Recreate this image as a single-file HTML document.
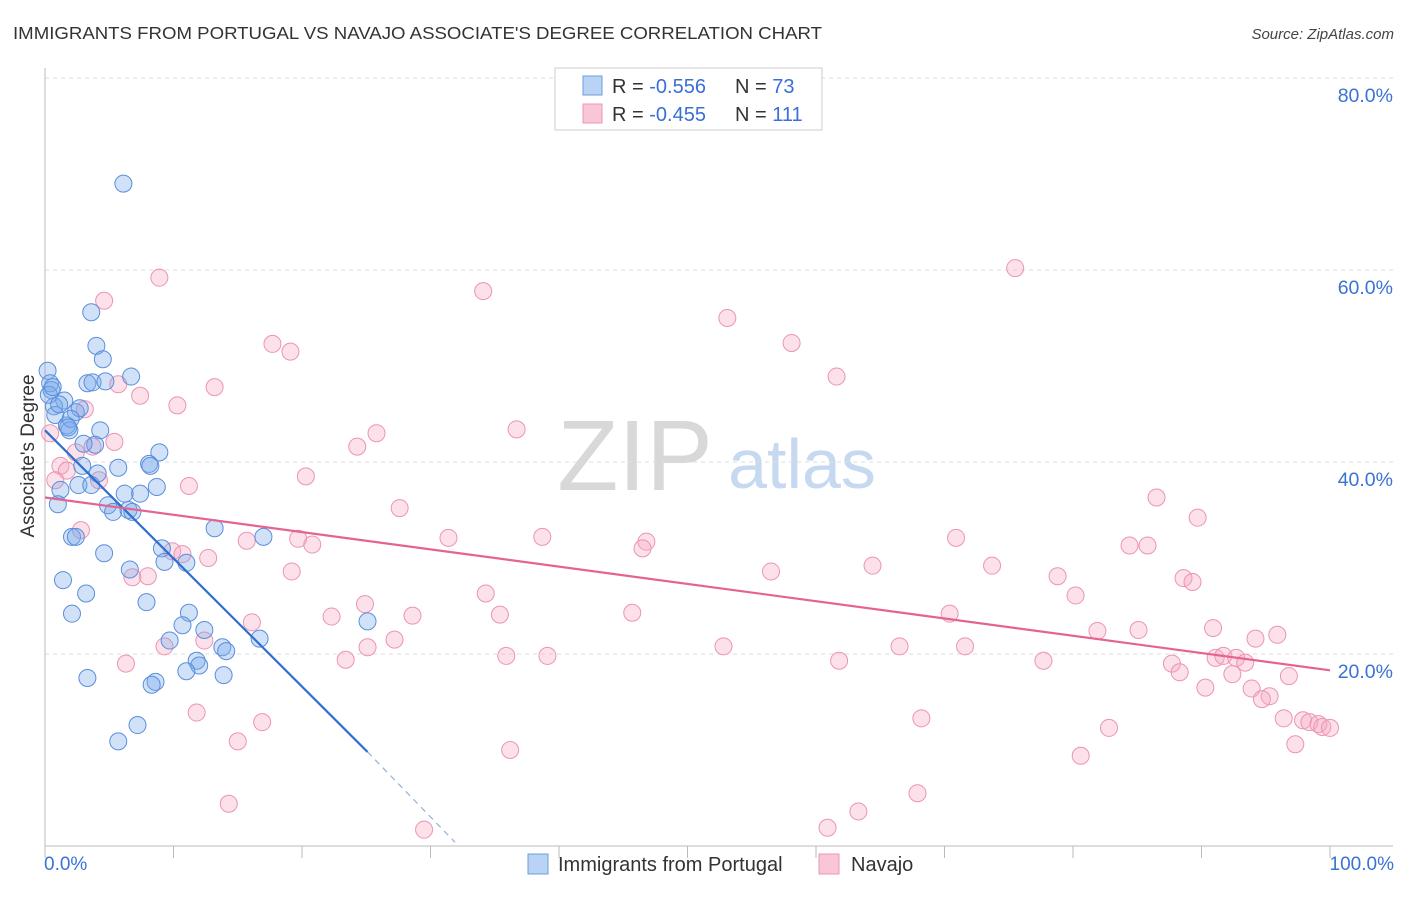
<!DOCTYPE html>
<html><head><meta charset="utf-8">
<style>
body{margin:0;background:#fff;font-family:"Liberation Sans",sans-serif;}
svg text{font-family:"Liberation Sans",sans-serif;}
</style></head>
<body>
<svg id="chart" width="1406" height="892" xmlns="http://www.w3.org/2000/svg">
<text x="13" y="39" font-size="17.5" fill="#333" textLength="809" lengthAdjust="spacingAndGlyphs">IMMIGRANTS FROM PORTUGAL VS NAVAJO ASSOCIATE'S DEGREE CORRELATION CHART</text>
<text x="1394" y="39" font-size="15" fill="#444" text-anchor="end" font-style="italic">Source: ZipAtlas.com</text>
<g>
<text x="635" y="490" font-size="100" fill="#d8d8d8" text-anchor="middle" font-family="Liberation Serif, serif">ZIP</text>
<text x="802" y="488" font-size="70" fill="#c6d9f0" text-anchor="middle">atlas</text>
</g>
<g id="grid"></g>
<g id="axes"></g>
<g id="pink"></g>
<g id="blue"></g>
<g id="trends"></g>
<g>
<rect x="555" y="68" width="267" height="62" fill="#fff" stroke="#ccc"/>
<rect x="583" y="76" width="19" height="19" fill="#b9d3f5" stroke="#6a9de0"/>
<rect x="583" y="104" width="19" height="19" fill="#f9c6d6" stroke="#eb97b2"/>
<text x="612" y="93" font-size="20" fill="#333">R = <tspan fill="#3a6fd8">-0.556</tspan></text>
<text x="735" y="93" font-size="20" fill="#333">N = <tspan fill="#3a6fd8">73</tspan></text>
<text x="612" y="121" font-size="20" fill="#333">R = <tspan fill="#3a6fd8">-0.455</tspan></text>
<text x="735" y="121" font-size="20" fill="#333">N = <tspan fill="#3a6fd8">111</tspan></text>
</g>
<g>
<rect x="528" y="854" width="20" height="20" fill="#b9d3f5" stroke="#6a9de0"/>
<text x="558" y="871" font-size="20" fill="#333">Immigrants from Portugal</text>
<rect x="819" y="854" width="20" height="20" fill="#f9c6d6" stroke="#eb97b2"/>
<text x="851" y="871" font-size="20" fill="#333">Navajo</text>
</g>
</svg>
<script>
const yTicks=[20,40,60,80];
const yTickLabels=["20.0%","40.0%","60.0%","80.0%"];
const xLabels=["0.0%","100.0%"];
const blueX=[6.1,3.6,4.0,4.5,0.2,6.7,3.3,0.4,3.7,4.7,0.5,1.5,0.7,2.4,2.7,0.8,1.7,1.9,4.3,3.9,3.0,8.9,8.1,8.2,5.7,4.1,2.9,1.2,2.6,3.6,8.7,6.2,7.4,1.0,4.9,5.3,6.5,6.8,13.2,2.1,2.4,17.0,9.1,4.6,9.3,11.0,6.6,1.4,3.2,7.9,2.1,11.2,25.1,10.7,12.4,16.7,9.7,13.8,14.1,11.8,12.0,11.0,13.9,3.3,8.6,8.3,7.2,5.7,0.3,1.1,2.0,0.6,1.8];
const blueY=[69.0,55.6,52.1,50.7,49.5,48.9,48.2,48.2,48.3,48.4,47.5,46.4,45.8,45.2,45.6,44.9,43.8,43.3,43.3,41.8,41.9,41.0,39.8,39.6,39.4,38.8,39.6,37.1,37.6,37.6,37.4,36.7,36.7,35.6,35.5,34.8,35.0,34.8,33.1,32.2,32.2,32.2,31.0,30.5,29.6,29.5,28.8,27.7,26.3,25.4,24.2,24.3,23.4,23.0,22.5,21.6,21.4,20.7,20.3,19.3,18.8,18.2,17.8,17.5,17.1,16.8,12.6,10.9,47.0,46.0,44.5,47.8,43.6];
const pinkX=[8.9,4.6,75.5,34.1,53.1,58.1,17.7,19.1,61.6,13.2,5.7,7.4,10.3,3.1,36.7,25.8,24.3,5.4,3.7,2.4,1.2,1.7,20.3,0.8,4.2,11.2,86.5,27.6,89.7,2.8,31.4,38.7,70.9,19.7,15.7,20.8,46.8,46.5,84.4,85.8,9.9,10.7,12.7,64.4,73.7,56.5,19.2,8.0,6.8,78.8,88.6,89.3,34.3,80.2,24.9,70.4,35.4,45.7,22.3,28.6,16.1,95.9,90.9,85.1,81.9,94.2,27.2,12.4,9.3,25.1,52.8,66.5,71.6,35.9,39.1,23.4,61.8,77.7,91.1,91.7,92.7,93.4,87.7,88.3,6.3,92.4,96.8,90.3,93.9,95.3,94.7,11.8,68.2,96.4,97.9,98.4,99.1,99.4,100,16.9,82.8,15.0,36.2,97.3,80.6,67.9,14.3,63.3,60.9,29.5,0.4];
const pinkY=[59.2,56.8,60.2,57.8,55.0,52.4,52.3,51.5,48.9,47.8,48.1,46.9,45.9,45.5,43.4,43.0,41.6,42.1,41.6,41.0,39.6,39.1,38.5,38.1,38.1,37.5,36.3,35.2,34.2,32.9,32.1,32.2,32.1,32.0,31.8,31.4,31.7,31.0,31.3,31.3,30.7,30.4,30.0,29.2,29.2,28.6,28.6,28.1,28.0,28.1,27.9,27.5,26.3,26.1,25.2,24.2,24.1,24.3,23.9,24.0,23.3,22.0,22.7,22.5,22.4,21.6,21.5,21.4,20.8,20.7,20.8,20.8,20.8,19.8,19.8,19.4,19.3,19.3,19.6,19.8,19.6,19.1,19.0,18.1,19.0,17.9,17.7,16.5,16.4,15.6,15.3,13.9,13.3,13.3,13.1,12.9,12.7,12.4,12.3,12.9,12.3,10.9,10.0,10.6,9.4,5.5,4.4,3.6,1.9,1.7,43.0];
const blueTrend=[[0,43.3],[25.1,9.8]];
const blueTrendDash=[[25.1,9.8],[31.9,0.4]];
const pinkTrend=[[0,36.3],[100,18.3]];

const NS="http://www.w3.org/2000/svg";
const X0=45,X1=1330,Y0=846,PPY=9.6;
function sx(v){return X0+(X1-X0)*v/100;}
function sy(v){return Y0-v*PPY;}
function mk(tag,attrs,parent){const e=document.createElementNS(NS,tag);for(const k in attrs)e.setAttribute(k,attrs[k]);document.getElementById(parent).appendChild(e);return e;}

yTicks.forEach((t,i)=>{
  const l=mk('line',{x1:X0,x2:1393,y1:sy(t),y2:sy(t),stroke:'#ddd','stroke-dasharray':'4,4'},'grid');
  
  
  const tx=mk('text',{x:1393,y:sy(t)+24,'font-size':19.5,fill:'#3a73d4','text-anchor':'end'},'grid');
  tx.textContent=yTickLabels[i];
  
  
});
let a=mk('line',{x1:X0,x2:X0,y1:68,y2:Y0,stroke:'#bbb'},'axes');


a=mk('line',{x1:X0,x2:1393,y1:Y0,y2:Y0,stroke:'#bbb'},'axes');


for(let k=0;k<=10;k++){
  const t=mk('line',{x1:sx(k*10),x2:sx(k*10),y1:Y0,y2:Y0+12,stroke:'#bbb'},'axes');
  
  
}
let xl=mk('text',{x:44,y:870,'font-size':19,fill:'#3a73d4'},'axes');xl.textContent=xLabels[0];


xl=mk('text',{x:1394,y:870,'font-size':19,fill:'#3a73d4','text-anchor':'end'},'axes');xl.textContent=xLabels[1];


const yt=mk('text',{x:34,y:456,'font-size':19,fill:'#333','text-anchor':'middle',transform:'rotate(-90 34 456)'},'axes');
yt.textContent="Associate's Degree";



pinkX.forEach((v,i)=>{
  const c=mk('circle',{cx:sx(v),cy:sy(pinkY[i]),r:8.5,fill:'rgba(246,170,196,0.35)',stroke:'#ec94b2','stroke-width':1},'pink');
  
  
});
blueX.forEach((v,i)=>{
  const c=mk('circle',{cx:sx(v),cy:sy(blueY[i]),r:8.5,fill:'rgba(120,170,235,0.35)',stroke:'#5a8fdc','stroke-width':1},'blue');
  
  
});
let tl=mk('line',{x1:sx(blueTrend[0][0]),y1:sy(blueTrend[0][1]),x2:sx(blueTrend[1][0]),y2:sy(blueTrend[1][1]),stroke:'#2f6fd0','stroke-width':2.2},'trends');


tl=mk('line',{x1:sx(blueTrendDash[0][0]),y1:sy(blueTrendDash[0][1]),x2:sx(blueTrendDash[1][0]),y2:sy(blueTrendDash[1][1]),stroke:'#8fb0e0','stroke-width':1.2,'stroke-dasharray':'6,5'},'trends');


tl=mk('line',{x1:sx(pinkTrend[0][0]),y1:sy(pinkTrend[0][1]),x2:sx(pinkTrend[1][0]),y2:sy(pinkTrend[1][1]),stroke:'#e4648f','stroke-width':2.2},'trends');


</script>
</body></html>
